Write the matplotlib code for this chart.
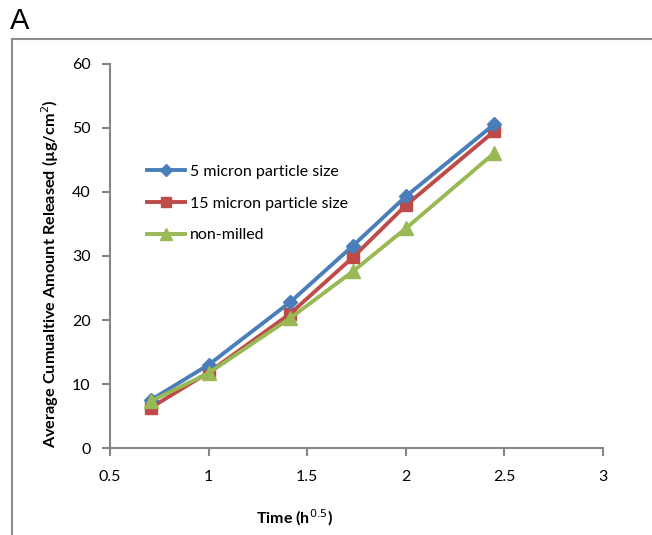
import numpy as np
import matplotlib.pyplot as plt
from matplotlib.lines import Line2D

plt.rcParams['font.family'] = ['Lato', 'DejaVu Sans']

# sampling times (h) plotted against sqrt(t)
times = [0.5, 1, 2, 3, 4, 6]
sqrt_t = np.sqrt(times)

micron_5 = [7.5, 13.0, 22.8, 31.6, 39.3, 50.6]
micron_15 = [6.3, 11.8, 21.0, 29.8, 37.9, 49.5]
non_milled = [7.3, 11.7, 20.3, 27.6, 34.3, 46.1]

series_names = ['5 micron particle size', '15 micron particle size', 'non-milled']

fig = plt.figure(figsize=(6.52, 5.35), dpi=100)
ax = fig.add_axes([0.1687, 0.1626, 0.756, 0.7178])

ax.plot(sqrt_t, micron_5, color='#4A7EBB', lw=2.8, marker='D', ms=7.5,
        label=series_names[0], zorder=4)
ax.plot(sqrt_t, micron_15, color='#BE4B48', lw=2.8, marker='s', ms=9,
        label=series_names[1], zorder=3)
ax.plot(sqrt_t, non_milled, color='#98B954', lw=2.8, marker='^', ms=10.5,
        label=series_names[2], zorder=5)

ax.set_xlim(0.5, 3)
ax.set_ylim(0, 60)
ax.set_xticks([0.5, 1, 1.5, 2, 2.5, 3])
ax.set_xticklabels(['0.5', '1', '1.5', '2', '2.5', '3'])
ax.set_yticks(range(0, 61, 10))

for side in ['top', 'right']:
    ax.spines[side].set_visible(False)
for side in ['left', 'bottom']:
    ax.spines[side].set_color('#868686')
    ax.spines[side].set_linewidth(1.5)
ax.tick_params(axis='both', colors='#868686', length=6, width=1.5,
               labelcolor='black', labelsize=11.5)
ax.tick_params(axis='x', pad=10)
ax.tick_params(axis='y', pad=8)

ax.set_xlabel('Time (h$^{0.5}$)', fontsize=11.5, fontweight='bold')
ax.xaxis.set_label_coords(0.375, -0.155)
ax.set_ylabel('Average Cumualtive Amount Released (µg/cm$^{2}$)',
              fontsize=11.7, fontweight='bold')
ax.yaxis.set_label_coords(-0.10, 0.455)

ax.legend(loc='upper left', bbox_to_anchor=(0.045, 0.775), frameon=False,
          fontsize=11.5, handlelength=2.4, handletextpad=0.3,
          labelspacing=1.1, markerscale=0.8)

# panel letter and border
fig.text(0.015, 0.935, 'A', fontsize=21, family='Liberation Sans', va='bottom')
fig.add_artist(Line2D([0.0184, 1.0], [0.927, 0.927], color='#8c8c8c', lw=1.5))
fig.add_artist(Line2D([0.0184, 0.0184], [0.0, 0.927], color='#8c8c8c', lw=1.5))

fig.savefig('out.png', dpi=100)
